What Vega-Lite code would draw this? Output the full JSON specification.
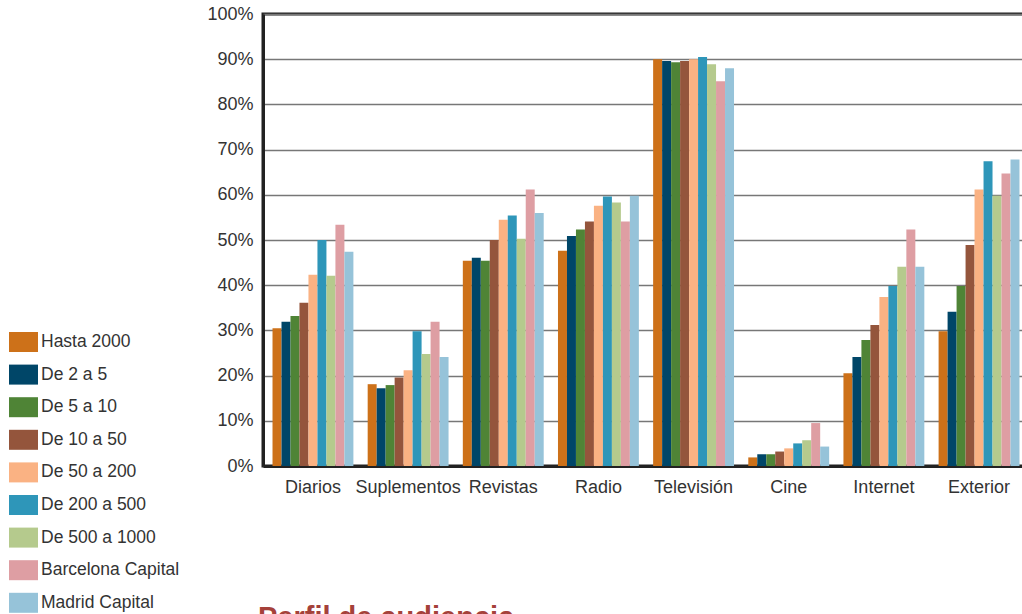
{
  "$schema": "https://vega.github.io/schema/vega-lite/v6.json",
  "autosize": {"type": "none"},
  "padding": {"left": 263, "top": 14, "right": 0, "bottom": 148},
  "width": 766,
  "height": 452,
  "background": "white",
  "title": {
    "text": "Perfil de audiencia",
    "orient": "bottom",
    "anchor": "start",
    "frame": "group",
    "offset": -9,
    "dx": -5,
    "font": "Liberation Sans",
    "fontSize": 29,
    "fontWeight": "bold",
    "color": "#a5413a"
  },
  "data": {
    "values": [
      {"medio": "Diarios", "serie": "Hasta 2000", "valor": 30.5},
      {"medio": "Diarios", "serie": "De 2 a 5", "valor": 31.9},
      {"medio": "Diarios", "serie": "De 5 a 10", "valor": 33.2},
      {"medio": "Diarios", "serie": "De 10 a 50", "valor": 36.1},
      {"medio": "Diarios", "serie": "De 50 a 200", "valor": 42.3},
      {"medio": "Diarios", "serie": "De 200 a 500", "valor": 50.0},
      {"medio": "Diarios", "serie": "De 500 a 1000", "valor": 42.1},
      {"medio": "Diarios", "serie": "Barcelona Capital", "valor": 53.4},
      {"medio": "Diarios", "serie": "Madrid Capital", "valor": 47.4},
      {"medio": "Suplementos", "serie": "Hasta 2000", "valor": 18.1},
      {"medio": "Suplementos", "serie": "De 2 a 5", "valor": 17.2},
      {"medio": "Suplementos", "serie": "De 5 a 10", "valor": 17.9},
      {"medio": "Suplementos", "serie": "De 10 a 50", "valor": 19.6},
      {"medio": "Suplementos", "serie": "De 50 a 200", "valor": 21.2},
      {"medio": "Suplementos", "serie": "De 200 a 500", "valor": 29.8},
      {"medio": "Suplementos", "serie": "De 500 a 1000", "valor": 24.8},
      {"medio": "Suplementos", "serie": "Barcelona Capital", "valor": 31.9},
      {"medio": "Suplementos", "serie": "Madrid Capital", "valor": 24.1},
      {"medio": "Revistas", "serie": "Hasta 2000", "valor": 45.4},
      {"medio": "Revistas", "serie": "De 2 a 5", "valor": 46.1},
      {"medio": "Revistas", "serie": "De 5 a 10", "valor": 45.4},
      {"medio": "Revistas", "serie": "De 10 a 50", "valor": 50.0},
      {"medio": "Revistas", "serie": "De 50 a 200", "valor": 54.5},
      {"medio": "Revistas", "serie": "De 200 a 500", "valor": 55.4},
      {"medio": "Revistas", "serie": "De 500 a 1000", "valor": 50.3},
      {"medio": "Revistas", "serie": "Barcelona Capital", "valor": 61.2},
      {"medio": "Revistas", "serie": "Madrid Capital", "valor": 56.0},
      {"medio": "Radio", "serie": "Hasta 2000", "valor": 47.6},
      {"medio": "Radio", "serie": "De 2 a 5", "valor": 50.9},
      {"medio": "Radio", "serie": "De 5 a 10", "valor": 52.3},
      {"medio": "Radio", "serie": "De 10 a 50", "valor": 54.1},
      {"medio": "Radio", "serie": "De 50 a 200", "valor": 57.6},
      {"medio": "Radio", "serie": "De 200 a 500", "valor": 59.6},
      {"medio": "Radio", "serie": "De 500 a 1000", "valor": 58.3},
      {"medio": "Radio", "serie": "Barcelona Capital", "valor": 54.1},
      {"medio": "Radio", "serie": "Madrid Capital", "valor": 59.8},
      {"medio": "Televisión", "serie": "Hasta 2000", "valor": 90.0},
      {"medio": "Televisión", "serie": "De 2 a 5", "valor": 89.6},
      {"medio": "Televisión", "serie": "De 5 a 10", "valor": 89.3},
      {"medio": "Televisión", "serie": "De 10 a 50", "valor": 89.6},
      {"medio": "Televisión", "serie": "De 50 a 200", "valor": 90.0},
      {"medio": "Televisión", "serie": "De 200 a 500", "valor": 90.5},
      {"medio": "Televisión", "serie": "De 500 a 1000", "valor": 88.9},
      {"medio": "Televisión", "serie": "Barcelona Capital", "valor": 85.1},
      {"medio": "Televisión", "serie": "Madrid Capital", "valor": 88.0},
      {"medio": "Cine", "serie": "Hasta 2000", "valor": 1.9},
      {"medio": "Cine", "serie": "De 2 a 5", "valor": 2.6},
      {"medio": "Cine", "serie": "De 5 a 10", "valor": 2.6},
      {"medio": "Cine", "serie": "De 10 a 50", "valor": 3.2},
      {"medio": "Cine", "serie": "De 50 a 200", "valor": 3.9},
      {"medio": "Cine", "serie": "De 200 a 500", "valor": 5.0},
      {"medio": "Cine", "serie": "De 500 a 1000", "valor": 5.7},
      {"medio": "Cine", "serie": "Barcelona Capital", "valor": 9.5},
      {"medio": "Cine", "serie": "Madrid Capital", "valor": 4.3},
      {"medio": "Internet", "serie": "Hasta 2000", "valor": 20.5},
      {"medio": "Internet", "serie": "De 2 a 5", "valor": 24.1},
      {"medio": "Internet", "serie": "De 5 a 10", "valor": 27.9},
      {"medio": "Internet", "serie": "De 10 a 50", "valor": 31.2},
      {"medio": "Internet", "serie": "De 50 a 200", "valor": 37.4},
      {"medio": "Internet", "serie": "De 200 a 500", "valor": 39.8},
      {"medio": "Internet", "serie": "De 500 a 1000", "valor": 44.1},
      {"medio": "Internet", "serie": "Barcelona Capital", "valor": 52.3},
      {"medio": "Internet", "serie": "Madrid Capital", "valor": 44.1},
      {"medio": "Exterior", "serie": "Hasta 2000", "valor": 29.8},
      {"medio": "Exterior", "serie": "De 2 a 5", "valor": 34.1},
      {"medio": "Exterior", "serie": "De 5 a 10", "valor": 39.8},
      {"medio": "Exterior", "serie": "De 10 a 50", "valor": 48.9},
      {"medio": "Exterior", "serie": "De 50 a 200", "valor": 61.2},
      {"medio": "Exterior", "serie": "De 200 a 500", "valor": 67.4},
      {"medio": "Exterior", "serie": "De 500 a 1000", "valor": 59.8},
      {"medio": "Exterior", "serie": "Barcelona Capital", "valor": 64.7},
      {"medio": "Exterior", "serie": "Madrid Capital", "valor": 67.8}
    ]
  },
  "mark": {"type": "bar"},
  "encoding": {
    "x": {
      "field": "medio",
      "type": "nominal",
      "sort": ["Diarios", "Suplementos", "Revistas", "Radio", "Televisión", "Cine", "Internet", "Exterior"],
      "scale": {"paddingInner": 0.15, "paddingOuter": 0.1},
      "axis": {
        "title": null,
        "labelAngle": 0,
        "ticks": false,
        "domainColor": "#222",
        "domainWidth": 3,
        "labelFont": "Liberation Sans",
        "labelFontSize": 18,
        "labelColor": "#333",
        "labelPadding": 12
      }
    },
    "xOffset": {
      "field": "serie",
      "type": "nominal",
      "sort": ["Hasta 2000", "De 2 a 5", "De 5 a 10", "De 10 a 50", "De 50 a 200", "De 200 a 500", "De 500 a 1000", "Barcelona Capital", "Madrid Capital"],
      "scale": {"paddingInner": 0, "paddingOuter": 0}
    },
    "y": {
      "field": "valor",
      "type": "quantitative",
      "scale": {"domain": [0, 100], "nice": false},
      "axis": {
        "title": null,
        "values": [0, 10, 20, 30, 40, 50, 60, 70, 80, 90, 100],
        "labelExpr": "datum.value + '%'",
        "ticks": false,
        "domainColor": "#222",
        "domainWidth": 3,
        "gridColor": "#777",
        "gridWidth": 1.5,
        "labelFont": "Liberation Sans",
        "labelFontSize": 18,
        "labelColor": "#333",
        "labelPadding": 10
      }
    },
    "color": {
      "field": "serie",
      "type": "nominal",
      "sort": ["Hasta 2000", "De 2 a 5", "De 5 a 10", "De 10 a 50", "De 50 a 200", "De 200 a 500", "De 500 a 1000", "Barcelona Capital", "Madrid Capital"],
      "scale": {
        "domain": ["Hasta 2000", "De 2 a 5", "De 5 a 10", "De 10 a 50", "De 50 a 200", "De 200 a 500", "De 500 a 1000", "Barcelona Capital", "Madrid Capital"],
        "range": ["#cd7119", "#004668", "#4f8436", "#94553c", "#fab283", "#2e96b9", "#b5ca8d", "#de9ea3", "#96c3d9"]
      },
      "legend": {
        "title": null,
        "orient": "none",
        "legendX": -249.5,
        "legendY": 318,
        "padding": 0,
        "symbolType": "M-1.45,-1H1.45V1H-1.45Z",
        "symbolSize": 400,
        "symbolStrokeWidth": 0,
        "symbolOpacity": 1,
        "labelFont": "Liberation Sans",
        "labelFontSize": 17.5,
        "labelColor": "#333",
        "labelOffset": 7.5,
        "rowPadding": 12.6
      }
    }
  },
  "config": {
    "view": {"stroke": "#222", "strokeWidth": 3},
    "axis": {"gridOpacity": 1}
  }
}
